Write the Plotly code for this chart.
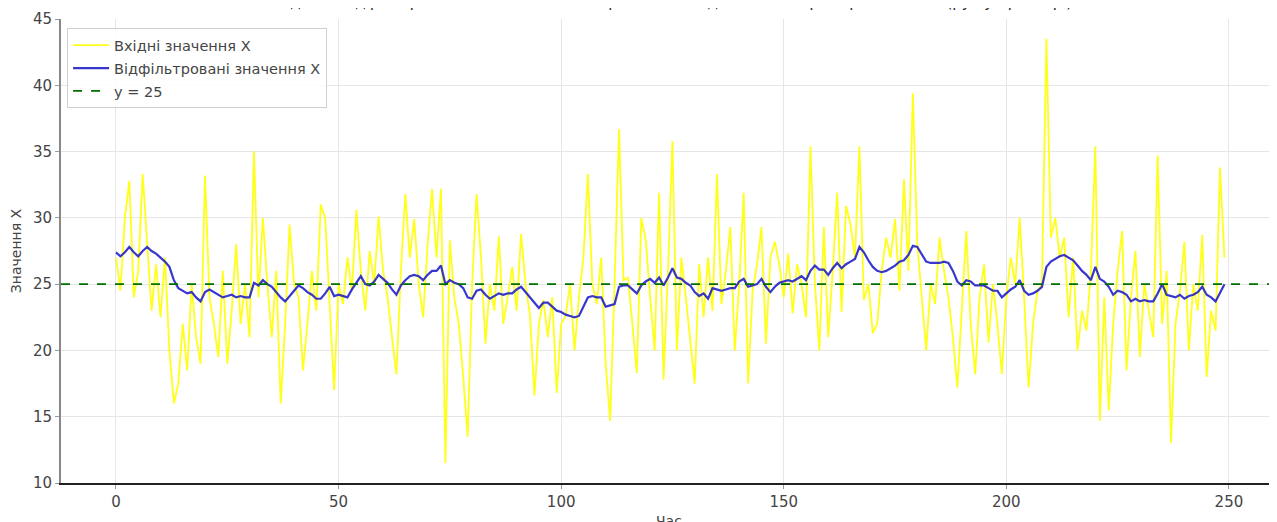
import plotly.graph_objects as go

time_steps = list(range(250))

input_x = [
    27.0, 24.5, 30.0, 32.8, 24.0, 26.0, 33.3, 28.0, 23.0, 26.5,
    22.5, 27.0, 20.0, 16.0, 17.5, 22.0, 18.5, 25.0, 21.0, 19.0,
    33.2, 24.0, 22.0, 19.5, 26.0, 19.0, 23.0, 28.0, 22.0, 25.0,
    21.0, 35.0, 24.0, 30.0, 25.0, 21.0, 26.0, 16.0, 22.0, 29.5,
    25.0, 24.0, 18.5, 22.0, 26.0, 23.0, 31.0, 30.0, 23.0, 17.0,
    25.0, 23.5, 27.0, 24.5, 30.6, 26.0, 23.0, 27.5, 25.0, 30.1,
    26.0, 24.0, 21.0, 18.2, 26.0, 31.8, 27.0, 29.9, 25.0, 22.5,
    28.0, 32.2, 27.0, 32.2, 11.5, 28.3, 24.0, 22.0, 18.0, 13.5,
    25.0, 31.8, 27.0, 20.5, 25.0, 23.0, 28.6, 22.0, 24.0, 26.3,
    23.0, 28.8, 25.0, 22.6, 16.6, 22.0, 23.8, 21.0, 24.0, 16.8,
    22.0, 22.6, 25.0, 20.0, 24.0, 27.0, 33.3, 25.0, 23.5, 27.0,
    19.0, 14.7, 25.0, 36.7, 25.3, 25.5, 22.0, 18.3, 30.0, 28.3,
    24.0, 20.0, 31.9, 17.8, 26.0, 35.8, 20.0, 27.0, 24.0, 21.0,
    17.5, 26.5, 22.5, 27.0, 23.0, 33.3, 23.5, 26.0, 29.3, 20.0,
    25.0, 31.9, 17.5, 24.5, 26.5, 29.3, 20.5, 27.0, 28.2, 26.5,
    24.0, 27.3, 22.8, 26.5, 25.0, 22.5, 35.4, 25.0, 20.0, 29.3,
    21.0, 26.0, 31.9, 22.9, 30.9, 29.5, 27.0, 35.4, 23.8, 25.0,
    21.3, 22.0, 26.0, 28.5, 27.0, 29.9, 24.5, 32.9, 26.0, 39.4,
    28.0, 24.0, 20.0, 25.0, 23.5, 28.5, 26.0, 24.0, 21.0, 17.2,
    23.0, 29.0, 22.0, 18.2, 24.0, 26.5, 20.6, 25.0, 22.0, 18.2,
    24.0, 27.0, 25.0, 30.0, 24.0, 17.2, 22.0, 24.5, 25.0, 43.5,
    28.5, 30.0, 27.0, 28.5, 22.5, 27.0, 20.0, 23.0, 21.5, 26.0,
    35.4, 14.7, 24.0, 15.5, 22.0, 26.0, 29.0, 18.5, 24.0, 27.5,
    19.5, 25.0, 23.0, 21.0, 34.7, 22.0, 26.0, 13.0, 22.0, 24.5,
    28.2, 20.0, 25.0, 23.0, 28.7, 18.0, 23.0, 21.5, 33.8, 27.0,
]

filtered_x = [
    27.4, 27.1, 27.4, 27.8, 27.4, 27.1, 27.5, 27.8, 27.5, 27.3,
    27.0, 26.7, 26.3, 25.3, 24.7, 24.5, 24.3, 24.4, 24.0, 23.7,
    24.4, 24.6, 24.4, 24.2, 24.0, 24.1, 24.2, 24.0, 24.1, 24.0,
    24.0, 25.1, 24.9, 25.3, 25.0, 24.8, 24.4, 24.0, 23.7, 24.1,
    24.5, 24.9, 24.7, 24.4, 24.2, 23.9, 23.9, 24.3, 24.8, 24.1,
    24.2, 24.1, 24.0, 24.6, 25.1, 25.6, 25.0, 24.9, 25.2, 25.7,
    25.4, 25.1, 24.6, 24.2, 24.9, 25.3, 25.6, 25.7, 25.6, 25.3,
    25.7, 26.0, 26.0, 26.4, 25.0, 25.3, 25.1, 25.0, 24.7, 24.0,
    23.9, 24.5, 24.6, 24.2, 23.9, 24.1, 24.3, 24.2, 24.3, 24.3,
    24.6, 24.8, 24.4, 24.0, 23.6, 23.2, 23.6, 23.6, 23.3, 23.0,
    22.9, 22.7, 22.6, 22.5, 22.6, 23.3, 24.0, 24.1, 24.0, 24.0,
    23.3, 23.4, 23.5, 24.8, 24.9, 24.9, 24.6, 24.3, 24.9, 25.2,
    25.4, 25.1, 25.5, 24.9, 25.5, 26.2, 25.5, 25.4, 25.1, 24.9,
    24.4, 24.1, 24.3, 23.9, 24.7, 24.6, 24.5, 24.6, 24.7, 24.7,
    25.2, 25.4, 24.8, 24.9, 25.0, 25.4, 24.8, 24.4, 24.8, 25.1,
    25.2, 25.3, 25.2, 25.4, 25.6, 25.3, 26.0, 26.4, 26.1, 26.1,
    25.7, 26.2, 26.6, 26.2, 26.5, 26.7, 26.9, 27.8, 27.4, 26.8,
    26.3, 26.0, 25.9, 26.0, 26.2, 26.4, 26.7, 26.8, 27.2, 27.9,
    27.8, 27.3, 26.7, 26.6, 26.6, 26.6, 26.7, 26.6, 26.0, 25.2,
    24.9, 25.3, 25.2, 24.9, 24.9, 24.9, 24.7, 24.5, 24.5, 24.0,
    24.3, 24.6, 24.8, 25.3, 24.5, 24.2, 24.3, 24.5, 24.8, 26.3,
    26.7, 26.9, 27.1, 27.2, 27.0, 26.8, 26.4, 26.0, 25.7, 25.3,
    26.3, 25.4, 25.2, 24.8, 24.2, 24.5, 24.4, 24.2, 23.7, 23.9,
    23.7, 23.8, 23.7, 23.7, 24.3, 25.0, 24.2, 24.1, 24.0, 24.2,
    23.9, 24.1, 24.2, 24.4, 24.8, 24.2, 24.0, 23.7, 24.4, 25.0,
]

reference_level = 25
y_ticks = [10, 15, 20, 25, 30, 35, 40, 45]
x_ticks = [0, 50, 100, 150, 200, 250]

FONT = "DejaVu Sans"
X_RANGE = [-12.35, 260.8]

fig = go.Figure()
fig.add_trace(go.Scatter(
    x=time_steps, y=input_x, mode="lines", name="Вхідні значення X",
    line=dict(color="rgba(255,255,0,0.9)", width=1.8), legendgroup="a",
))
fig.add_trace(go.Scatter(
    x=time_steps, y=filtered_x, mode="lines", name="Відфільтровані значення X",
    line=dict(color="rgba(20,20,200,0.85)", width=2.2), legendgroup="b",
))
fig.add_trace(go.Scatter(
    x=X_RANGE, y=[reference_level, reference_level], mode="lines",
    name="y = 25", legendgroup="c",
    line=dict(color="rgb(0,110,0)", width=1.6, dash="dash"),
))

# Title: mostly cropped off at the top edge, as in the reference
fig.add_annotation(
    text="Вхідні та відфільтровані значення X з використанням адаптивного фільтра Калмана (рух у просторі)",
    xref="paper", yref="paper", x=0.5, y=1.013, xanchor="center", yanchor="bottom",
    showarrow=False, font=dict(family=FONT, size=15, color="#222"),
)
fig.add_annotation(
    text="Час",
    xref="paper", yref="paper", x=0.5, y=-0.061, xanchor="center", yanchor="top",
    showarrow=False, font=dict(family=FONT, size=14, color="#444"),
)

fig.update_layout(
    width=1269, height=514,
    margin=dict(l=53, r=0, t=11, b=39, autoexpand=False),
    paper_bgcolor="white", plot_bgcolor="white",
    font=dict(family=FONT, size=15, color="#333"),
    showlegend=True,
    legend=dict(
        x=0.005, y=0.98, xanchor="left", yanchor="top",
        bgcolor="rgba(255,255,255,0.85)", bordercolor="#d0d0d0", borderwidth=1,
        font=dict(family=FONT, size=14.5, color="#444"),
        tracegroupgap=1, itemwidth=36,
    ),
)
fig.update_xaxes(
    range=X_RANGE, tickvals=x_ticks, ticktext=[str(v) for v in x_ticks],
    showgrid=True, gridcolor="#e6e6e6", gridwidth=1, zeroline=False,
    showline=True, linecolor="#222", linewidth=2, automargin=False,
    ticks="outside", ticklen=4, tickcolor="#999",
    tickfont=dict(family=FONT, size=15, color="#444"),
)
fig.update_yaxes(
    range=[10, 45], tickvals=y_ticks, ticktext=[str(v) for v in y_ticks],
    showgrid=True, gridcolor="#e6e6e6", gridwidth=1, zeroline=False,
    showline=True, linecolor="#888", linewidth=2, automargin=False,
    ticks="outside", ticklen=4, tickcolor="#999",
    tickfont=dict(family=FONT, size=15, color="#444"),
    title=dict(text="Значення X", font=dict(family=FONT, size=14, color="#444"), standoff=8),
)

fig.write_html("out.html")
